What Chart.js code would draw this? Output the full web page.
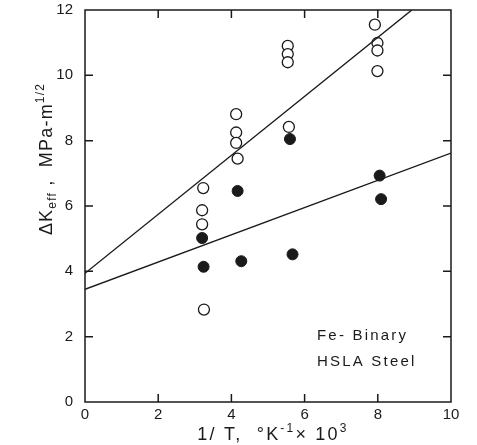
<!DOCTYPE html>
<html>
<head>
<meta charset="utf-8">
<script src="https://cdn.jsdelivr.net/npm/chart.js@4.4.1/dist/chart.umd.min.js"></script>
<style>
html,body{margin:0;padding:0;background:#fff;}
#wrap{width:477px;height:445px;position:relative;}
</style>
</head>
<body>
<div id="wrap"><canvas id="c" width="477" height="445"></canvas></div>
<script>
// ---- data ----
const xTicks = [0, 2, 4, 6, 8, 10];
const yTicks = [0, 2, 4, 6, 8, 10, 12];

// open circles (Fe-Binary)
const openX = [3.23, 3.20, 3.20, 3.25, 4.13, 4.13, 4.13, 4.17, 5.54, 5.54, 5.54, 5.57, 7.92, 7.99, 7.99, 7.99];
const openY = [6.55, 5.87, 5.44, 2.83, 8.81, 8.25, 7.93, 7.45, 10.9, 10.65, 10.4, 8.42, 11.55, 10.99, 10.76, 10.13];

// filled circles (HSLA Steel)
const fillX = [3.20, 3.24, 4.17, 4.27, 5.60, 5.67, 8.05, 8.09];
const fillY = [5.02, 4.14, 6.46, 4.31, 8.05, 4.52, 6.93, 6.21];

// fitted lines (end points)
const upperLineX = [0, 8.93];
const upperLineY = [3.94, 12];
const lowerLineX = [0, 10];
const lowerLineY = [3.45, 7.62];

const legendLabels = ["Fe- Binary", "HSLA Steel"];

const toPts = (xs, ys) => xs.map((x, i) => ({x: x, y: ys[i]}));

const INK = '#1a1a1a';
const FONT = '"Liberation Sans", Arial, sans-serif';

const framePlugin = {
  id: 'frame',
  afterDraw(chart) {
    const ctx = chart.ctx;
    const a = chart.chartArea;
    const xs = chart.scales.x, ys = chart.scales.y;
    ctx.save();
    ctx.strokeStyle = INK;
    ctx.lineWidth = 1.5;
    ctx.strokeRect(a.left, a.top, a.right - a.left, a.bottom - a.top);
    // inward ticks
    const tl = 8;
    ctx.beginPath();
    xTicks.forEach(v => {
      if (v === 0 || v === 10) return;
      const px = xs.getPixelForValue(v);
      ctx.moveTo(px, a.bottom); ctx.lineTo(px, a.bottom - tl);
      ctx.moveTo(px, a.top); ctx.lineTo(px, a.top + tl);
    });
    yTicks.forEach(v => {
      if (v === 0 || v === 12) return;
      const py = ys.getPixelForValue(v);
      ctx.moveTo(a.left, py); ctx.lineTo(a.left + tl, py);
      ctx.moveTo(a.right, py); ctx.lineTo(a.right - tl, py);
    });
    ctx.stroke();

    ctx.fillStyle = INK;
    ctx.textBaseline = 'alphabetic';
    // legend text
    ctx.font = '15px ' + FONT;
    ctx.letterSpacing = '2.2px';
    ctx.textAlign = 'left';
    ctx.fillText(legendLabels[0], 317, 340);
    ctx.fillText(legendLabels[1], 317, 366);

    // x axis title with superscripts
    const big = '18px ' + FONT, small = '12px ' + FONT;
    const xParts = [['1/ T,  °K', big, 0], ['-1', small, -8], ['× 10', big, 0], ['3', small, -8]];
    ctx.letterSpacing = '2.2px';
    let w = 0;
    xParts.forEach(p => { ctx.font = p[1]; w += ctx.measureText(p[0]).width; });
    let cx = 273 - w / 2;
    xParts.forEach(p => { ctx.font = p[1]; ctx.fillText(p[0], cx, 440 + p[2]); cx += ctx.measureText(p[0]).width; });

    // y axis title rotated, with sub/superscripts
    ctx.letterSpacing = '1.2px';
    const yParts = [['ΔK', big, 0], ['eff', small, 4], [' ,  MPa-m', big, 0], ['1/2', small, -8]];
    ctx.translate(52, 159);
    ctx.rotate(-Math.PI / 2);
    w = 0;
    yParts.forEach(p => { ctx.font = p[1]; w += ctx.measureText(p[0]).width; });
    cx = -w / 2;
    yParts.forEach(p => { ctx.font = p[1]; ctx.fillText(p[0], cx, p[2]); cx += ctx.measureText(p[0]).width; });
    ctx.restore();
  }
};

new Chart(document.getElementById('c'), {
  type: 'scatter',
  data: {
    datasets: [
      {
        label: 'upper fit',
        data: toPts(upperLineX, upperLineY),
        showLine: true, borderColor: INK, borderWidth: 1.4,
        pointRadius: 0, fill: false, tension: 0
      },
      {
        label: 'lower fit',
        data: toPts(lowerLineX, lowerLineY),
        showLine: true, borderColor: INK, borderWidth: 1.4,
        pointRadius: 0, fill: false, tension: 0
      },
      {
        label: legendLabels[0],
        data: toPts(openX, openY),
        pointRadius: 5.5, pointBackgroundColor: '#fff',
        pointBorderColor: INK, pointBorderWidth: 1.3, showLine: false
      },
      {
        label: legendLabels[1],
        data: toPts(fillX, fillY),
        pointRadius: 5.5, pointBackgroundColor: INK,
        pointBorderColor: INK, pointBorderWidth: 1, showLine: false
      }
    ]
  },
  options: {
    responsive: false,
    animation: false,
    devicePixelRatio: 1,
    layout: { padding: { top: 10, right: 26, left: 0, bottom: 0 } },
    plugins: { legend: { display: false }, tooltip: { enabled: false } },
    scales: {
      x: {
        type: 'linear', min: 0, max: 10,
        afterBuildTicks: s => { s.ticks = xTicks.map(v => ({value: v})); },
        afterFit: s => { s.height = 43; s.paddingLeft = 0; s.paddingRight = 0; },
        grid: { display: false, drawTicks: false },
        border: { display: false },
        ticks: { color: INK, font: { family: FONT, size: 15 }, padding: 4, maxRotation: 0 }
      },
      y: {
        type: 'linear', min: 0, max: 12,
        afterBuildTicks: s => { s.ticks = yTicks.map(v => ({value: v})); },
        afterFit: s => { s.width = 85; s.paddingTop = 0; s.paddingBottom = 0; },
        grid: { display: false, drawTicks: false },
        border: { display: false },
        ticks: { color: INK, font: { family: FONT, size: 15 }, padding: 12 }
      }
    }
  },
  plugins: [framePlugin]
});
</script>
</body>
</html>
